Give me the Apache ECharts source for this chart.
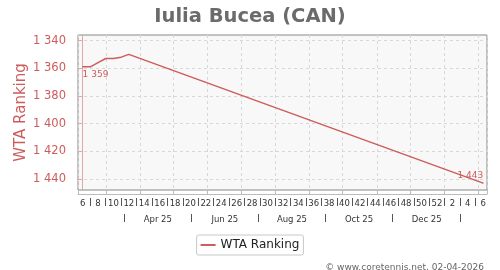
<!DOCTYPE html>
<html>
<head>
<meta charset="utf-8">
<script src="https://cdn.jsdelivr.net/npm/echarts@6/dist/echarts.min.js"></script>
<style>
html,body{margin:0;padding:0;background:#fff;}
#chart{width:500px;height:270px;}
</style>
</head>
<body>
<div id="chart"></div>
<script>
// ---- data ----
const titleText = 'Iulia Bucea (CAN)';
const seriesName = 'WTA Ranking';
const weeks = ['2025-06','2025-07','2025-08','2025-09','2025-10','2025-11','2025-12','2025-13','2025-14','2025-15',
  '2025-16','2025-17','2025-18','2025-19','2025-20','2025-21','2025-22','2025-23','2025-24','2025-25',
  '2025-26','2025-27','2025-28','2025-29','2025-30','2025-31','2025-32','2025-33','2025-34','2025-35',
  '2025-36','2025-37','2025-38','2025-39','2025-40','2025-41','2025-42','2025-43','2025-44','2025-45',
  '2025-46','2025-47','2025-48','2025-49','2025-50','2025-51','2025-52','2026-01','2026-02','2026-03',
  '2026-04','2026-05','2026-06'];
const weekTickLabels = ['6','8','10','12','14','16','18','20','22','24','26','28','30','32','34','36','38','40','42','44','46','48','50','52','2','4','6'];
const rankWeeks = ['2025-06','2025-07','2025-08','2025-09','2025-10','2025-11','2025-12','2026-06'];
const rankValues = [1359, 1359, 1356, 1353, 1353, 1352, 1350, 1443];
const yTicks = [1340, 1360, 1380, 1400, 1420, 1440];
const monthBlockStarts = ['2025-04-01','2025-06-01','2025-08-01','2025-10-01','2025-12-01','2026-02-01'];
const monthLabels = ['Apr 25','Jun 25','Aug 25','Oct 25','Dec 25'];
const copyright = '\u00a9 www.coretennis.net, 02-04-2026';

// ---- helpers ----
const fmt = v => String(v).replace(/\B(?=(\d{3})+(?!\d))/g, ' ');
const weekIdx = w => weeks.indexOf(w);
const labelWeekIdx = [];
const sepWeekIdx = [];
weeks.forEach((w, i) => { if (i % 2 === 0) labelWeekIdx.push(i); else sepWeekIdx.push(i); });
const ts = s => new Date(s).getTime();
const blockTs = monthBlockStarts.map(s => ts(s + 'T00:00:00'));
const blockMid = monthLabels.map((_, i) => (blockTs[i] + blockTs[i + 1]) / 2);

const red = '#cd5c5c';
const seriesData = rankWeeks.map((w, i) => {
  const item = { value: [weekIdx(w), rankValues[i]] };
  if (i === 0) item.label = { show: true, position: 'bottom', align: 'left', distance: 3 };
  if (i === rankWeeks.length - 1) item.label = { show: true, position: 'top', align: 'right', distance: 2 };
  return item;
});

const chart = echarts.init(document.getElementById('chart'), null, { renderer: 'canvas' });
chart.setOption({
  animation: false,
  backgroundColor: '#fff',
  textStyle: { fontFamily: 'DejaVu Sans' },
  title: [
    { text: titleText, left: 'center', top: 2,
      textStyle: { fontFamily: 'DejaVu Sans', fontWeight: 'bold', fontSize: 19.5, color: '#6b6b6b' } },
    { text: copyright, right: 11, top: 258,
      textStyle: { fontFamily: 'DejaVu Sans', fontWeight: 'normal', fontSize: 9, color: '#666' } }
  ],
  legend: {
    data: [{ name: seriesName, icon: 'rect', itemStyle: { color: red, opacity: 1 } }],
    left: 'center', top: 235,
    itemWidth: 15, itemHeight: 2, itemGap: 5,
    padding: [4, 4],
    borderColor: '#c8c8c8', borderWidth: 1, borderRadius: 2,
    textStyle: { fontFamily: 'DejaVu Sans', fontSize: 12, color: '#222' }
  },
  grid: {
    left: 78, right: 13, top: 35, bottom: 80,
    show: true, backgroundColor: '#f8f8f8', borderColor: '#888', borderWidth: 1
  },
  xAxis: [
    { // week row, carries the data
      type: 'value', min: -0.6, max: 52.5, position: 'bottom', offset: 8,
      axisLine: { show: false },
      splitLine: { show: false },
      axisTick: { show: true, customValues: sepWeekIdx, length: 8, lineStyle: { color: '#555' } },
      axisLabel: { customValues: labelWeekIdx, margin: 1, fontSize: 8.5, color: '#333',
        formatter: v => weekTickLabels[labelWeekIdx.indexOf(v)] }
    },
    { // monthly grid lines
      type: 'time', min: ts('2025-02-03T16:00:00'), max: ts('2026-02-08T18:00:00'), position: 'bottom', offset: 4,
      splitNumber: 12, minInterval: 28 * 86400000, maxInterval: 31 * 86400000,
      axisLine: { show: true, lineStyle: { color: '#bbb', width: 1 } },
      axisTick: { show: true, inside: true, length: 4, lineStyle: { color: '#bbb' } },
      axisLabel: { show: false },
      splitLine: { show: true, lineStyle: { color: '#d8d8d8', type: [3, 3], width: 1 } }
    },
    { // month row
      type: 'value', min: ts('2025-02-17T22:00:00'), max: ts('2026-02-24T22:00:00'), position: 'bottom', offset: 24,
      axisLine: { show: false },
      splitLine: { show: false },
      axisTick: { show: true, customValues: blockTs, length: 8, lineStyle: { color: '#555' } },
      axisLabel: { customValues: blockMid, margin: 1, fontSize: 8.5, color: '#333',
        formatter: v => monthLabels[blockMid.indexOf(v)] }
    }
  ],
  yAxis: {
    type: 'value', inverse: true, min: 1336, max: 1448, position: 'left', offset: 5,
    name: seriesName, nameLocation: 'middle', nameGap: 44, nameRotate: 90, nameMoveOverlap: false,
    nameTextStyle: { fontFamily: 'DejaVu Sans', fontSize: 15, color: red },
    axisLine: { show: true, lineStyle: { color: '#e0a8a8', width: 1 } },
    axisTick: { show: true, customValues: yTicks, length: 5, lineStyle: { color: '#e0a8a8' } },
    axisLabel: { customValues: yTicks, margin: 7, fontSize: 11.5, color: red, formatter: fmt },
    splitLine: { show: true, lineStyle: { color: '#d8d8d8', type: [3, 3], width: 1 } }
  },
  series: [{
    name: seriesName, type: 'line', xAxisIndex: 0, yAxisIndex: 0,
    data: seriesData,
    color: red,
    lineStyle: { color: red, width: 1.5 },
    symbol: 'circle', symbolSize: 1, showSymbol: true,
    itemStyle: { color: red },
    label: { show: false, fontSize: 9, color: red, fontFamily: 'DejaVu Sans',
      formatter: p => fmt(p.value[1]) },
    labelLayout: { hideOverlap: false },
    emphasis: { disabled: true }
  }]
});
</script>
</body>
</html>
